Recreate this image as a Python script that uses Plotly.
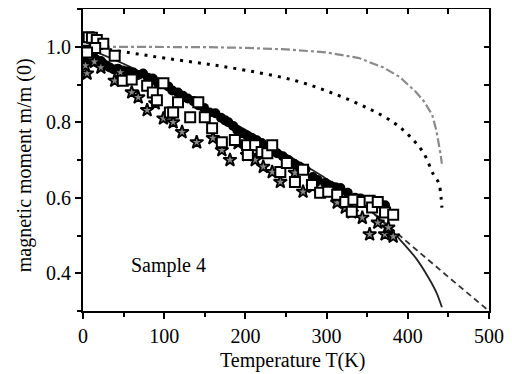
import plotly.graph_objects as go

# ---- data ----
circ_T = [2, 3, 5, 6, 8, 10, 12, 15, 18, 22, 25, 29, 33, 38, 43, 49, 55, 62, 68, 74, 80, 86, 92, 99, 105,
          110, 117, 123, 129, 136, 142, 149, 156, 163, 170, 175, 179, 185, 190, 196, 202, 208, 214, 220,
          224, 231, 239, 246, 253, 260, 267, 274, 283, 289, 298, 305, 311, 317, 326, 335, 342, 350, 358, 365, 372]
circ_m = [0.99, 0.975, 0.965, 0.985, 0.97, 0.96, 0.975, 0.968, 0.958, 0.962, 0.955, 0.95, 0.945, 0.94, 0.942,
          0.937, 0.935, 0.932, 0.925, 0.929, 0.918, 0.916, 0.905, 0.903, 0.895, 0.884, 0.879, 0.87, 0.863,
          0.856, 0.845, 0.838, 0.826, 0.824, 0.812, 0.805, 0.80, 0.79, 0.779, 0.771, 0.765, 0.758, 0.752,
          0.745, 0.734, 0.728, 0.718, 0.71, 0.70, 0.69, 0.682, 0.675, 0.655, 0.647, 0.639, 0.632, 0.628,
          0.626, 0.613, 0.60, 0.598, 0.592, 0.588, 0.585, 0.58]

sq_T = [2, 7, 11, 17, 25, 15, 5, 39, 49, 60, 79, 86, 99, 91, 107, 117, 111, 132, 142, 150, 159, 171, 187,
        202, 212, 203, 220, 227, 233, 243, 251, 261, 271, 282, 292, 302, 313, 323, 331, 333, 344, 353, 356,
        363, 372, 382]
sq_m = [1.016, 1.025, 1.024, 1.018, 1.008, 0.997, 0.985, 0.976, 0.91, 0.913, 0.897, 0.879, 0.903, 0.858,
        0.826, 0.853, 0.826, 0.813, 0.853, 0.813, 0.784, 0.747, 0.753, 0.739, 0.739, 0.713, 0.721, 0.718,
        0.739, 0.668, 0.692, 0.642, 0.674, 0.634, 0.613, 0.616, 0.608, 0.589, 0.563, 0.595, 0.589, 0.592,
        0.574, 0.589, 0.561, 0.555]

star_T = [5, 9, 3, 14, 22, 39, 46, 60, 68, 79, 89, 99, 111, 122, 140, 160, 171, 181, 191, 202, 212, 222,
          233, 243, 261, 271, 283, 313, 323, 331, 344, 353, 363, 372, 376, 382]
star_m = [0.929, 0.971, 0.95, 0.96, 0.945, 0.91, 0.932, 0.879, 0.866, 0.832, 0.85, 0.81, 0.80, 0.774,
          0.747, 0.758, 0.726, 0.70, 0.745, 0.713, 0.70, 0.682, 0.668, 0.642, 0.666, 0.616, 0.629, 0.587,
          0.574, 0.561, 0.547, 0.503, 0.534, 0.503, 0.521, 0.497]

solid_T = [0, 50, 100, 150, 200, 250, 300, 340, 370, 390, 410, 425, 435, 442]
solid_m = [1.0, 0.955, 0.90, 0.84, 0.78, 0.715, 0.65, 0.59, 0.535, 0.49, 0.44, 0.39, 0.35, 0.31]

dash_T = [300, 340, 360, 380, 400, 450, 500]
dash_m = [0.65, 0.59, 0.555, 0.518, 0.48, 0.39, 0.30]

dot_T = [10, 58, 100, 150, 202, 262, 311, 352, 382, 401, 419, 432, 438, 441, 442]
dot_m = [1.0, 0.984, 0.97, 0.955, 0.937, 0.91, 0.874, 0.836, 0.80, 0.766, 0.72, 0.66, 0.64, 0.60, 0.574]

dd_T = [0, 50, 100, 150, 200, 250, 300, 340, 370, 390, 410, 420, 430, 435, 440, 442]
dd_m = [1.0, 1.0, 1.0, 0.999, 0.997, 0.993, 0.985, 0.97, 0.945, 0.92, 0.88, 0.855, 0.82, 0.78, 0.72, 0.69]

x_ticks = [0, 100, 200, 300, 400, 500]
y_ticks = [0.4, 0.6, 0.8, 1.0]
y_ticktext = ["0.4", "0.6", "0.8", "1.0"]

FONT = "Liberation Serif, Times New Roman, DejaVu Serif, serif"
FS = 20

fig = go.Figure()
fig.add_trace(go.Scatter(x=dd_T, y=dd_m, mode="lines",
                         line=dict(color="#8a8a8a", width=2.2, dash="9px,3px,3px,3px")))
fig.add_trace(go.Scatter(x=dot_T, y=dot_m, mode="lines",
                         line=dict(color="black", width=3, dash="3px,6px", shape="spline")))
fig.add_trace(go.Scatter(x=dash_T, y=dash_m, mode="lines",
                         line=dict(color="#333333", width=1.8, dash="6px,4px")))
fig.add_trace(go.Scatter(x=solid_T, y=solid_m, mode="lines",
                         line=dict(color="#222222", width=1.8, shape="spline")))
fig.add_trace(go.Scatter(x=circ_T, y=circ_m, mode="markers",
                         marker=dict(symbol="circle", size=10, color="black")))
fig.add_trace(go.Scatter(x=star_T, y=star_m, mode="markers",
                         marker=dict(symbol="star", size=10, color="#888888",
                                     line=dict(color="black", width=1.8))))
fig.add_trace(go.Scatter(x=sq_T, y=sq_m, mode="markers",
                         marker=dict(symbol="square", size=10, color="white",
                                     line=dict(color="black", width=2))))
# helper trace for top/right mirrored inside ticks
fig.add_trace(go.Scatter(x=[0], y=[0.3], xaxis="x2", yaxis="y2", mode="markers",
                         marker=dict(opacity=0), hoverinfo="skip"))

fig.add_annotation(x=105, y=0.42, text="Sample 4", showarrow=False,
                   font=dict(family=FONT, size=FS, color="black"))
# axis titles
fig.add_annotation(xref="paper", yref="paper", x=0.515, y=-0.165, text="Temperature T(K)",
                   showarrow=False, xanchor="center", yanchor="middle",
                   font=dict(family=FONT, size=FS, color="black"))
fig.add_annotation(xref="paper", yref="paper", x=-0.145, y=0.483, text="magnetic moment m/m (0)",
                   showarrow=False, xanchor="center", yanchor="middle", textangle=-90,
                   font=dict(family=FONT, size=FS, color="black"))

axis_common = dict(showgrid=False, zeroline=False, showline=True, linecolor="black", linewidth=2,
                   tickcolor="black", tickwidth=1.5, automargin=False)

# the page body adds an 8px offset at top-left, so the figure is 8px smaller
fig.update_layout(
    width=504, height=366,
    margin=dict(l=75, r=23, t=1, b=63),
    paper_bgcolor="white", plot_bgcolor="white",
    showlegend=False,
    font=dict(family=FONT, size=FS, color="black"),
    xaxis=dict(range=[0, 500], tickvals=x_ticks, ticks="outside", ticklen=6,
               minor=dict(dtick=50, ticks="outside", ticklen=4, tickcolor="black", tickwidth=1.5),
               tickfont=dict(family=FONT, size=FS), **axis_common),
    yaxis=dict(range=[0.3, 1.1], tickvals=y_ticks, ticktext=y_ticktext,
               ticks="outside", ticklen=6,
               minor=dict(dtick=0.1, tick0=0.3, ticks="outside", ticklen=4, tickcolor="black", tickwidth=1.5),
               tickfont=dict(family=FONT, size=FS), **axis_common),
    xaxis2=dict(range=[0, 500], overlaying="x", side="top", anchor="y2", dtick=50, tick0=0,
                ticks="inside", ticklen=5, showticklabels=False, **axis_common),
    yaxis2=dict(range=[0.3, 1.1], overlaying="y", side="right", anchor="x2", dtick=0.1, tick0=0.3,
                ticks="inside", ticklen=5, showticklabels=False, **axis_common),
)

fig.write_html("out.html")
